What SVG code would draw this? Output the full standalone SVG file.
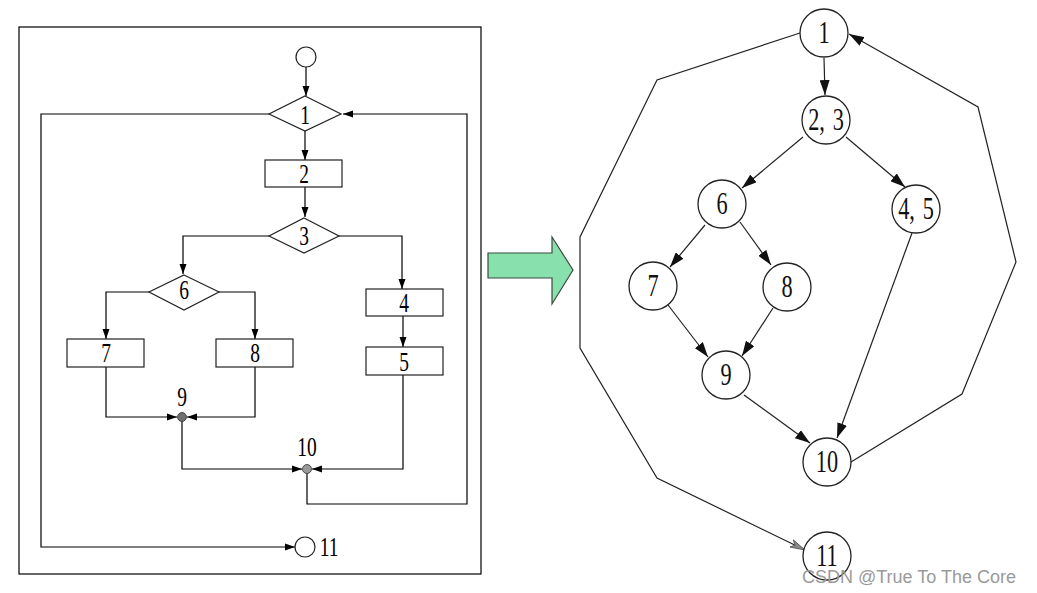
<svg xmlns="http://www.w3.org/2000/svg" width="1037" height="593" viewBox="0 0 1037 593">
  <style>
    .frame { fill: none; stroke: #000; stroke-width: 1.2; }
    .shape { fill: #fff; stroke: #222; stroke-width: 1.2; }
    .wire { fill: none; stroke: #000; stroke-width: 1.2; }
    .edge { fill: none; stroke: #222; stroke-width: 1.2; }
    .node { fill: #fff; stroke: #222; stroke-width: 1.3; }
    .dot { fill: #6f6f6f; stroke: #333; stroke-width: 0.8; }
    .lbl, .nlbl { font-family: "Liberation Serif", "Times New Roman", serif; fill: #000; text-anchor: middle;
                  transform-box: fill-box; transform-origin: center; transform: scaleX(0.72); }
    .lbl { font-size: 27px; }
    .nlbl { font-size: 31px; fill: #111; }
    .pair { word-spacing: 3px; }
    .mark { font-family: "Liberation Sans", Arial, sans-serif; font-size: 18px; fill: #9a9a9a; }
  </style>
  <defs>
    <marker id="arrS" markerUnits="userSpaceOnUse" markerWidth="11" markerHeight="8" refX="10" refY="4" orient="auto">
      <path d="M0,0.5 L10,4 L0,7.5 Z" fill="#000"/>
    </marker>
    <marker id="arrL" markerUnits="userSpaceOnUse" markerWidth="16" markerHeight="10" refX="15" refY="5" orient="auto">
      <path d="M0,0 L15,5 L0,10 Z" fill="#111"/>
    </marker>
    <marker id="arrG" markerUnits="userSpaceOnUse" markerWidth="16" markerHeight="10" refX="15" refY="5" orient="auto">
      <path d="M0,1 L15,5 L0,9 L4,5 Z" fill="#888" stroke="#555" stroke-width="0.8"/>
    </marker>
  </defs>

  <rect width="1037" height="593" fill="#fff"/>

  <!-- flowchart panel -->
  <rect class="frame" x="19" y="27" width="462" height="547"/>

  <g id="flow-connectors">
    <path class="wire" d="M306,67 L306,96" marker-end="url(#arrS)"/>
    <path class="wire" d="M305,131 L305,160" marker-end="url(#arrS)"/>
    <path class="wire" d="M305,187 L305,217" marker-end="url(#arrS)"/>
    <path class="wire" d="M269,236 L183,236 L183,274" marker-end="url(#arrS)"/>
    <path class="wire" d="M339,236 L402,236 L402,289" marker-end="url(#arrS)"/>
    <path class="wire" d="M149,292 L106,292 L106,339" marker-end="url(#arrS)"/>
    <path class="wire" d="M219,292 L255,292 L255,339" marker-end="url(#arrS)"/>
    <path class="wire" d="M403,316 L403,347" marker-end="url(#arrS)"/>
    <path class="wire" d="M106,367 L106,417 L177,417" marker-end="url(#arrS)"/>
    <path class="wire" d="M255,367 L255,417 L187,417" marker-end="url(#arrS)"/>
    <path class="wire" d="M182,421 L182,469 L302,469" marker-end="url(#arrS)"/>
    <path class="wire" d="M403,375 L403,469 L312,469" marker-end="url(#arrS)"/>
    <path class="wire" d="M307,473 L307,504 L467,504 L467,114 L343,114" marker-end="url(#arrS)"/>
    <path class="wire" d="M269,114 L41,114 L41,547 L295,547" marker-end="url(#arrS)"/>
  </g>

  <g id="flow-start"><circle class="shape" cx="306" cy="57" r="10"/></g>
  <g id="flow-1">
    <polygon class="shape" points="305,96 341,114 305,131 269,114"/>
    <text class="lbl" x="305" y="124">1</text>
  </g>
  <g id="flow-2">
    <rect class="shape" x="265" y="160" width="77" height="27"/>
    <text class="lbl" x="304" y="183">2</text>
  </g>
  <g id="flow-3">
    <polygon class="shape" points="304,218 339,236 304,253 269,236"/>
    <text class="lbl" x="304" y="245">3</text>
  </g>
  <g id="flow-6">
    <polygon class="shape" points="184,275 219,292 184,310 149,292"/>
    <text class="lbl" x="184" y="299">6</text>
  </g>
  <g id="flow-7">
    <rect class="shape" x="67" y="339" width="77" height="28"/>
    <text class="lbl" x="106" y="362">7</text>
  </g>
  <g id="flow-8">
    <rect class="shape" x="216" y="339" width="77" height="28"/>
    <text class="lbl" x="255" y="362">8</text>
  </g>
  <g id="flow-4">
    <rect class="shape" x="366" y="289" width="77" height="27"/>
    <text class="lbl" x="404" y="312">4</text>
  </g>
  <g id="flow-5">
    <rect class="shape" x="366" y="347" width="77" height="28"/>
    <text class="lbl" x="404" y="371">5</text>
  </g>
  <g id="flow-9">
    <circle class="dot" cx="182" cy="417" r="4.5"/>
    <text class="lbl" x="182" y="406">9</text>
  </g>
  <g id="flow-10">
    <circle class="dot" cx="307" cy="469" r="4.5" style="fill:#999"/>
    <text class="lbl" x="307" y="456">10</text>
  </g>
  <g id="flow-11">
    <circle class="shape" cx="305" cy="547" r="10"/>
    <text class="lbl" x="329" y="556">11</text>
  </g>

  <!-- transformation arrow -->
  <g id="convert-arrow">
    <polygon points="488,253 552,253 552,237 573,270 552,304 552,278 488,278" fill="#88e0ac" stroke="#3a4a40" stroke-width="1.2"/>
  </g>

  <!-- flow graph panel -->
  <g id="graph-connectors">
    <path class="edge" d="M824,58 L825,95" marker-end="url(#arrL)"/>
    <path class="edge" d="M803,137 L742,188" marker-end="url(#arrL)"/>
    <path class="edge" d="M846,137 L905,187" marker-end="url(#arrL)"/>
    <path class="edge" d="M705,225 L670,267" marker-end="url(#arrL)"/>
    <path class="edge" d="M740,222 L771,265" marker-end="url(#arrL)"/>
    <path class="edge" d="M668,305 L708,357" marker-end="url(#arrL)"/>
    <path class="edge" d="M773,308 L742,356" marker-end="url(#arrL)"/>
    <path class="edge" d="M744,395 L810,443" marker-end="url(#arrL)"/>
    <path class="edge" d="M912,233 L837,438" marker-end="url(#arrL)"/>
    <path class="edge" d="M851,462 L962,394 L1016,262 L978,107 L849,34" marker-end="url(#arrL)"/>
    <path class="edge" d="M800,33 L657,80 L580,237 L580,348 L657,478 L805,550" marker-end="url(#arrG)"/>
  </g>

  <g id="n1"><circle class="node" cx="824" cy="33" r="24"/><text class="nlbl" x="824" y="43">1</text></g>
  <g id="n23"><circle class="node" cx="826" cy="120" r="24"/><text class="nlbl pair" x="826" y="130">2, 3</text></g>
  <g id="n6"><circle class="node" cx="722" cy="204" r="24"/><text class="nlbl" x="722" y="214">6</text></g>
  <g id="n45"><circle class="node" cx="916" cy="209" r="24"/><text class="nlbl pair" x="916" y="219">4, 5</text></g>
  <g id="n7"><circle class="node" cx="653" cy="286" r="24"/><text class="nlbl" x="653" y="296">7</text></g>
  <g id="n8"><circle class="node" cx="787" cy="287" r="24"/><text class="nlbl" x="787" y="297">8</text></g>
  <g id="n9"><circle class="node" cx="726" cy="375" r="24"/><text class="nlbl" x="726" y="385">9</text></g>
  <g id="n10"><circle class="node" cx="827" cy="462" r="24"/><text class="nlbl" x="827" y="472">10</text></g>
  <g id="n11"><circle class="node" cx="827" cy="556" r="24"/><text class="nlbl" x="827" y="566">11</text></g>

  <text class="mark" x="802" y="583">CSDN @True To The Core</text>
</svg>
